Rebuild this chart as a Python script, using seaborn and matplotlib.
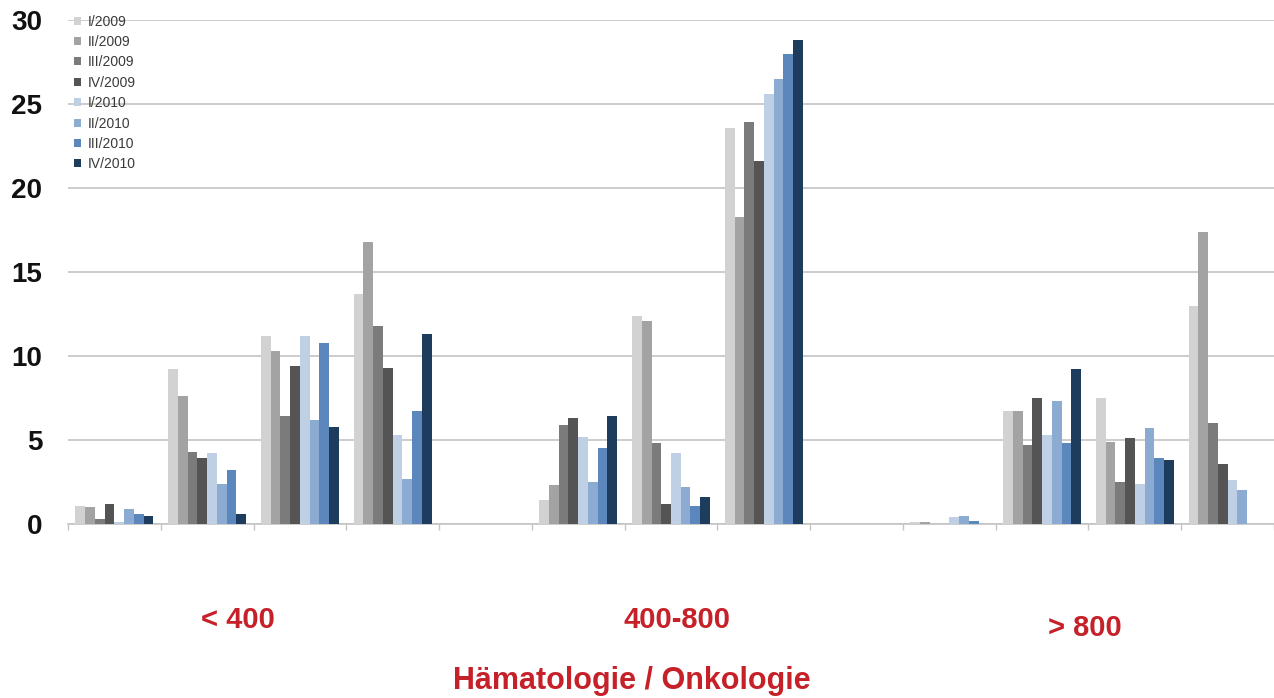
import numpy as np
import pandas as pd
import matplotlib
matplotlib.use("Agg")
import matplotlib.pyplot as plt
import seaborn as sns

quarters = ["I/2009", "II/2009", "III/2009", "IV/2009",
            "I/2010", "II/2010", "III/2010", "IV/2010"]
slots = [str(i) for i in range(1, 14)]

# one row per quarter, one value per slot (slots 5 and 9 are empty gaps)
v_I_2009   = [1.1, 9.2, 11.2, 13.7, 0, 1.4, 12.4, 23.6, 0, 0.1, 6.7, 7.5, 13.0]
v_II_2009  = [1.0, 7.6, 10.3, 16.8, 0, 2.3, 12.1, 18.3, 0, 0.1, 6.7, 4.9, 17.4]
v_III_2009 = [0.3, 4.3, 6.4, 11.8, 0, 5.9, 4.8, 23.9, 0, 0.0, 4.7, 2.5, 6.0]
v_IV_2009  = [1.2, 3.9, 9.4, 9.3, 0, 6.3, 1.2, 21.6, 0, 0.0, 7.5, 5.1, 3.6]
v_I_2010   = [0.1, 4.2, 11.2, 5.3, 0, 5.2, 4.2, 25.6, 0, 0.4, 5.3, 2.4, 2.6]
v_II_2010  = [0.9, 2.4, 6.2, 2.7, 0, 2.5, 2.2, 26.5, 0, 0.5, 7.3, 5.7, 2.0]
v_III_2010 = [0.6, 3.2, 10.8, 6.7, 0, 4.5, 1.1, 28.0, 0, 0.2, 4.8, 3.9, 0.0]
v_IV_2010  = [0.5, 0.6, 5.8, 11.3, 0, 6.4, 1.6, 28.8, 0, 0.0, 9.2, 3.8, 0.0]

group_labels = ["< 400", "400-800", "> 800"]
xlabel = "Hämatologie / Onkologie"

colors = ["#d2d2d2", "#a3a3a3", "#7b7b7b", "#545454",
          "#b9d0ea", "#80aade", "#4b86cc", "#133b68"]

series = [v_I_2009, v_II_2009, v_III_2009, v_IV_2009,
          v_I_2010, v_II_2010, v_III_2010, v_IV_2010]
rows = []
for q, vals in zip(quarters, series):
    for s, v in zip(slots, vals):
        rows.append({"slot": s, "quarter": q, "value": v})
df = pd.DataFrame(rows)

sns.set_style("white")
plt.rcParams["font.family"] = ["Liberation Sans", "DejaVu Sans"]

fig = plt.figure(figsize=(12.74, 6.98), dpi=100)
ax = fig.add_axes([68 / 1274, 1 - 524 / 698, 1 - 68 / 1274, (524 - 20) / 698])

sns.barplot(data=df, x="slot", y="value", hue="quarter", order=slots,
            hue_order=quarters, palette=colors, width=0.84, gap=0,
            linewidth=0, errorbar=None, ax=ax)

ax.set_ylim(0, 30)
ax.set_xlim(-0.5, 12.46)
ax.set_yticks([0, 5, 10, 15, 20, 25, 30])
ax.yaxis.grid(True, color="#c4c4c4", linewidth=1.2)
ax.set_axisbelow(True)
for sp in ["top", "right", "left"]:
    ax.spines[sp].set_visible(False)
ax.spines["bottom"].set_color("#c4c4c4")
ax.spines["bottom"].set_linewidth(1.2)
ax.spines["bottom"].set_zorder(0.5)

ax.set_xticks(np.arange(-0.5, 13, 1))
ax.set_xticklabels([])
ax.tick_params(axis="x", bottom=True, length=4, width=1, color="#c4c4c4")
ax.tick_params(axis="y", left=False, pad=15)
for lab in ax.get_yticklabels():
    lab.set_fontsize(20)
    lab.set_fontweight("bold")
    lab.set_color("#111111")
ax.set_xlabel("")
ax.set_ylabel("")

leg = ax.legend(loc="upper left", bbox_to_anchor=(-0.003, 1.03), frameon=False,
                fontsize=10, handlelength=0.5, handleheight=0.5,
                handletextpad=0.5, labelspacing=0.46, borderaxespad=0.3)
for t in leg.get_texts():
    t.set_color("#3a3a3a")

red = "#c62129"
fig.text(238 / 1274, 1 - 628 / 698, group_labels[0], color=red, fontsize=21,
         fontweight="bold", ha="center", va="baseline")
fig.text(677 / 1274, 1 - 628 / 698, group_labels[1], color=red, fontsize=21,
         fontweight="bold", ha="center", va="baseline")
fig.text(1085 / 1274, 1 - 636 / 698, group_labels[2], color=red, fontsize=21,
         fontweight="bold", ha="center", va="baseline")
fig.text(632 / 1274, 1 - 689 / 698, xlabel, color=red, fontsize=22,
         fontweight="bold", ha="center", va="baseline")

fig.savefig("out.png", dpi=100)
